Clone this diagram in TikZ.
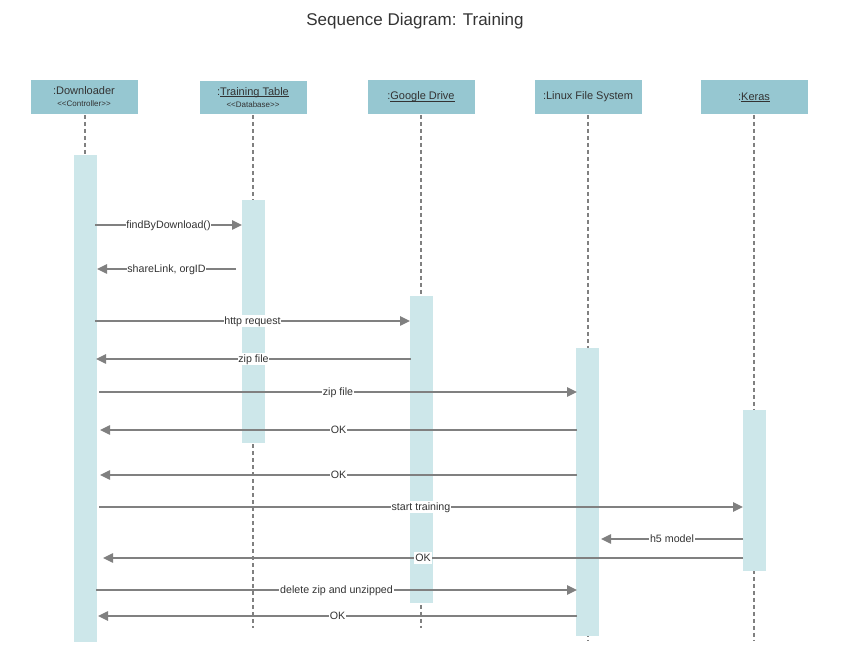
\documentclass[tikz,border=0pt]{standalone}
\usepackage{fontspec}
\setmainfont{Liberation Sans}
\usetikzlibrary{arrows.meta}
\definecolor{hdr}{RGB}{150,199,209}
\definecolor{barc}{RGB}{205,231,234}
\definecolor{ln}{RGB}{128,128,128}
\definecolor{txt}{RGB}{51,51,51}
\newcommand\ulx[1]{\setbox0\hbox{#1}\rlap{\rule[-1.1pt]{\wd0}{0.5pt}}\box0}
\begin{document}
\begin{tikzpicture}[x=0.75pt,y=-0.75pt,
 head/.style={fill=hdr, draw=white, line width=0.75pt, minimum width=81pt, minimum height=26pt, inner sep=0pt, align=center, font=\fontsize{8.25}{8.5}\selectfont, text=txt},
 actbar/.style={fill=barc, draw=none, minimum width=17.25pt, inner sep=0pt, anchor=north},
 life/.style={draw=ln, dash pattern=on 3pt off 2.25pt, line width=0.9pt},
 msg/.style={draw=ln, line width=1.1pt, -{Triangle[length=7.5pt,width=7pt]}},
 lbl/.style={fill=white, inner sep=0.6pt, text height=5.9pt, text depth=1.3pt, font=\fontsize{8}{9}\selectfont, text=txt}]
\useasboundingbox (0,0) rectangle (854,670);
\node[font=\fontsize{12.75}{14}\selectfont, text=txt] (title) at (415,21) {Sequence Diagram: Training};
% headers
\node[head] (hD) at (84,97) {:Downloader\\[0.5pt]{\fontsize{6}{7}\selectfont <\kern0pt<Controller>\kern0pt>}};
\node[head] (hT) at (253,97.5) {:\ulx{Training Table}\\[0.5pt]{\fontsize{6}{7}\selectfont <\kern0pt<Database>\kern0pt>}};
\node[head] (hG) at (421,97) {:\ulx{Google Drive}};
\node[head] (hL) at (588,97) {:Linux File System};
\node[head] (hK) at (754,97) {:\ulx{Keras}};
% lifeline ends
\coordinate (eD) at (85,642);
\coordinate (eT) at (253,628);
\coordinate (eG) at (421,628);
\coordinate (eL) at (588,640);
\coordinate (eK) at (754,640);
\draw[life] (hD.south -| eD) -- (eD);
\draw[life] (hT.south -| eT) -- (eT);
\draw[life] (hG.south -| eG) -- (eG);
\draw[life] (hL.south -| eL) -- (eL);
\draw[life] (hK.south -| eK) -- (eK);
% activation bars
\node[actbar, minimum height=365.25pt] (bD) at (85.5,155) {};
\node[actbar, minimum height=182.25pt] (bT) at (253.5,200) {};
\node[actbar, minimum height=230.25pt] (bG) at (421.5,296) {};
\node[actbar, minimum height=216pt] (bL) at (587.5,348) {};
\node[actbar, minimum height=120.75pt] (bK) at (754.5,410) {};
% message endpoints
\coordinate (m1s) at (95,225);  \coordinate (m1e) at (242,225);
\coordinate (m2s) at (236,269); \coordinate (m2e) at (97,269);
\coordinate (m3s) at (95,321);  \coordinate (m3e) at (410,321);
\coordinate (m4s) at (411,359); \coordinate (m4e) at (96,359);
\coordinate (m5s) at (99,392);  \coordinate (m5e) at (577,392);
\coordinate (m6s) at (577,430); \coordinate (m6e) at (100,430);
\coordinate (m7s) at (577,475); \coordinate (m7e) at (100,475);
\coordinate (m8s) at (99,507);  \coordinate (m8e) at (743,507);
\coordinate (m9s) at (743,539); \coordinate (m9e) at (601,539);
\coordinate (m10s) at (743,558); \coordinate (m10e) at (103,558);
\coordinate (m11s) at (96,590); \coordinate (m11e) at (577,590);
\coordinate (m12s) at (577,616); \coordinate (m12e) at (98,616);
% messages
\draw[msg] (m1s) -- node[lbl] (l1) {findByDownload()} (m1e);
\draw[msg] (m2s) -- node[lbl] (l2) {shareLink, orgID} (m2e);
\draw[msg] (m3s) -- node[lbl] (l3) {http request} (m3e);
\draw[msg] (m4s) -- node[lbl] (l4) {zip file} (m4e);
\draw[msg] (m5s) -- node[lbl] (l5) {zip file} (m5e);
\draw[msg] (m6s) -- node[lbl] (l6) {OK} (m6e);
\draw[msg] (m7s) -- node[lbl] (l7) {OK} (m7e);
\draw[msg] (m8s) -- node[lbl] (l8) {start training} (m8e);
\draw[msg] (m9s) -- node[lbl] (l9) {h5 model} (m9e);
\draw[msg] (m10s) -- node[lbl] (l10) {OK} (m10e);
\draw[msg] (m11s) -- node[lbl] (l11) {delete zip and unzipped} (m11e);
\draw[msg] (m12s) -- node[lbl] (l12) {OK} (m12e);
\end{tikzpicture}
\end{document}
